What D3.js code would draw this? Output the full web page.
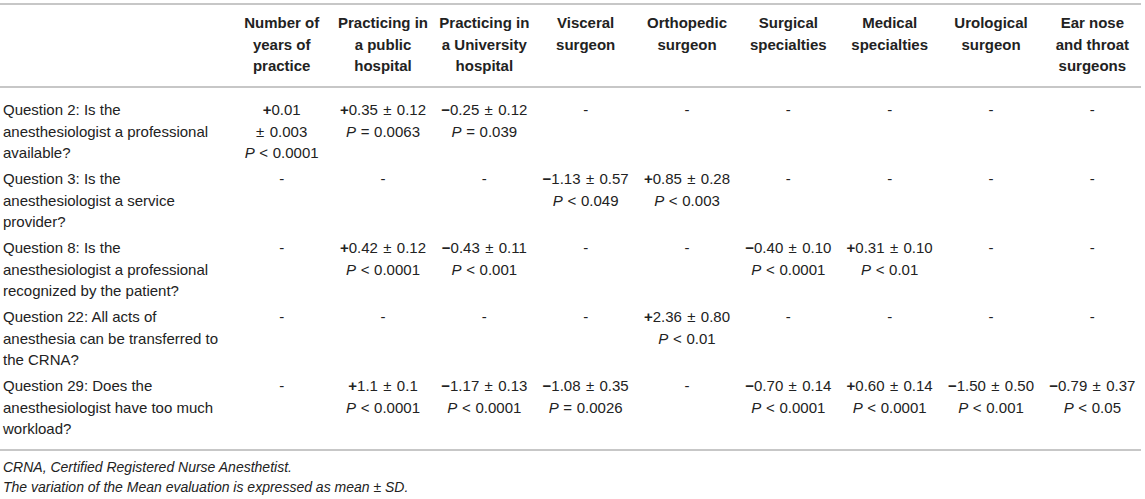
<!DOCTYPE html>
<html lang="en">
<head>
    <meta charset="UTF-8">
    <title>Table</title>
    <style>
        body{
            margin:0;
            background:#fff;
        }
        text{
            font-family:"Liberation Sans", Arial, sans-serif;
            fill:#222;
        }
    </style>
    <script src="https://cdn.jsdelivr.net/npm/d3@7/dist/d3.min.js"></script>
</head>
<body>
<div id="container"></div>
<script>
    // column headers (line breaks as in the printed table)
    var columns = [
        "Number of\nyears of\npractice",
        "Practicing in\na public\nhospital",
        "Practicing in\na University\nhospital",
        "Visceral\nsurgeon",
        "Orthopedic\nsurgeon",
        "Surgical\nspecialties",
        "Medical\nspecialties",
        "Urological\nsurgeon",
        "Ear nose\nand throat\nsurgeons"
    ];
    var questions = [
        "Question 2: Is the\nanesthesiologist a professional\navailable?",
        "Question 3: Is the\nanesthesiologist a service\nprovider?",
        "Question 8: Is the\nanesthesiologist a professional\nrecognized by the patient?",
        "Question 22: All acts of\nanesthesia can be transferred to\nthe CRNA?",
        "Question 29: Does the\nanesthesiologist have too much\nworkload?"
    ];
    // variation of the mean evaluation, null = no effect ("-")
    var means = [
        ["+0.01", "+0.35", "\u22120.25", null, null, null, null, null, null],
        [null, null, null, "\u22121.13", "+0.85", null, null, null, null],
        [null, "+0.42", "\u22120.43", null, null, "\u22120.40", "+0.31", null, null],
        [null, null, null, null, "+2.36", null, null, null, null],
        [null, "+1.1", "\u22121.17", "\u22121.08", null, "\u22120.70", "+0.60", "\u22121.50", "\u22120.79"]
    ];
    var sds = [
        ["0.003", "0.12", "0.12", null, null, null, null, null, null],
        [null, null, null, "0.57", "0.28", null, null, null, null],
        [null, "0.12", "0.11", null, null, "0.10", "0.10", null, null],
        [null, null, null, null, "0.80", null, null, null, null],
        [null, "0.1", "0.13", "0.35", null, "0.14", "0.14", "0.50", "0.37"]
    ];
    var pvals = [
        ["< 0.0001", "= 0.0063", "= 0.039", null, null, null, null, null, null],
        [null, null, null, "< 0.049", "< 0.003", null, null, null, null],
        [null, "< 0.0001", "< 0.001", null, null, "< 0.0001", "< 0.01", null, null],
        [null, null, null, null, "< 0.01", null, null, null, null],
        [null, "< 0.0001", "< 0.0001", "= 0.0026", null, "< 0.0001", "< 0.0001", "< 0.001", "< 0.05"]
    ];
    var footnotes = [
        "CRNA, Certified Registered Nurse Anesthetist.",
        "The variation of the Mean evaluation is expressed as mean \u00b1 SD."
    ];

    var w = 1145, h = 499, lh = 21.5, maxCell = 89, fs = '15px';
    var x = d3.scaleBand().domain(columns).range([231, 1143]),
        y = d3.scalePoint().domain(questions).range([115, 391]);

    var svg = d3.select('#container').append('svg').attr('width', w).attr('height', h);

    // rules
    svg.selectAll('line.rule').data([4, 87, 450]).enter().append('line')
        .attr('class', 'rule')
        .attr('x1', 0).attr('x2', 1141)
        .attr('y1', function (d) { return d }).attr('y2', function (d) { return d })
        .attr('stroke', '#b5b5b5').attr('stroke-width', 1.6);

    // header
    svg.selectAll('text.head').data(columns).enter().append('text')
        .attr('class', 'head')
        .attr('text-anchor', 'middle')
        .attr('font-size', fs)
        .attr('font-weight', 'bold')
        .each(function (d) {
            var t = d3.select(this), cx = x(d) + x.bandwidth() / 2;
            d.split('\n').forEach(function (s, i) {
                t.append('tspan').attr('x', cx).attr('y', 28 + i * lh).text(s);
            });
        });

    // row labels
    svg.selectAll('text.q').data(questions).enter().append('text')
        .attr('class', 'q')
        .attr('font-size', fs)
        .each(function (d) {
            var t = d3.select(this);
            d.split('\n').forEach(function (s, i) {
                t.append('tspan').attr('x', 3).attr('y', y(d) + i * lh).text(s);
            });
        });

    // cells
    questions.forEach(function (q, qi) {
        columns.forEach(function (c, ci) {
            var cx = x(c) + x.bandwidth() / 2, cy = y(q);
            var g = svg.append('g').attr('class', 'cell');
            if (means[qi][ci] === null) {
                g.append('text').attr('x', cx).attr('y', cy)
                    .attr('text-anchor', 'middle').attr('font-size', fs).text('-');
                return;
            }
            var m = means[qi][ci];
            var lines = [];
            // try mean and sd on one line, split when too wide
            var probe = g.append('text').attr('font-size', fs).text(m + ' \u00b1 ' + sds[qi][ci]);
            var tooWide = probe.node().getComputedTextLength() > maxCell;
            probe.remove();
            if (tooWide) {
                lines.push({ws: 1.2, parts: [['b', m[0]], ['n', m.slice(1)]]});
                lines.push({ws: 1.2, parts: [['n', '\u00b1 ' + sds[qi][ci]]]});
            } else {
                lines.push({ws: 1.2, parts: [['b', m[0]], ['n', m.slice(1) + ' \u00b1 ' + sds[qi][ci]]]});
            }
            lines.push({ws: 0.5, parts: [['i', 'P'], ['n', ' ' + pvals[qi][ci]]]});
            lines.forEach(function (ln, li) {
                var t = g.append('text').attr('x', cx).attr('y', cy + li * lh)
                    .attr('text-anchor', 'middle').attr('font-size', fs)
                    .attr('word-spacing', ln.ws + 'px');
                ln.parts.forEach(function (p) {
                    var ts = t.append('tspan').text(p[1]);
                    if (p[0] === 'b') ts.attr('font-weight', 'bold');
                    if (p[0] === 'i') ts.attr('font-style', 'italic');
                });
            });
        });
    });

    // footnotes
    svg.selectAll('text.note').data(footnotes).enter().append('text')
        .attr('class', 'note')
        .attr('x', 3)
        .attr('y', function (d, i) { return 472 + i * 20 })
        .attr('font-size', '14px')
        .attr('font-style', 'italic')
        .text(function (d) { return d });
</script>
</body>
</html>
